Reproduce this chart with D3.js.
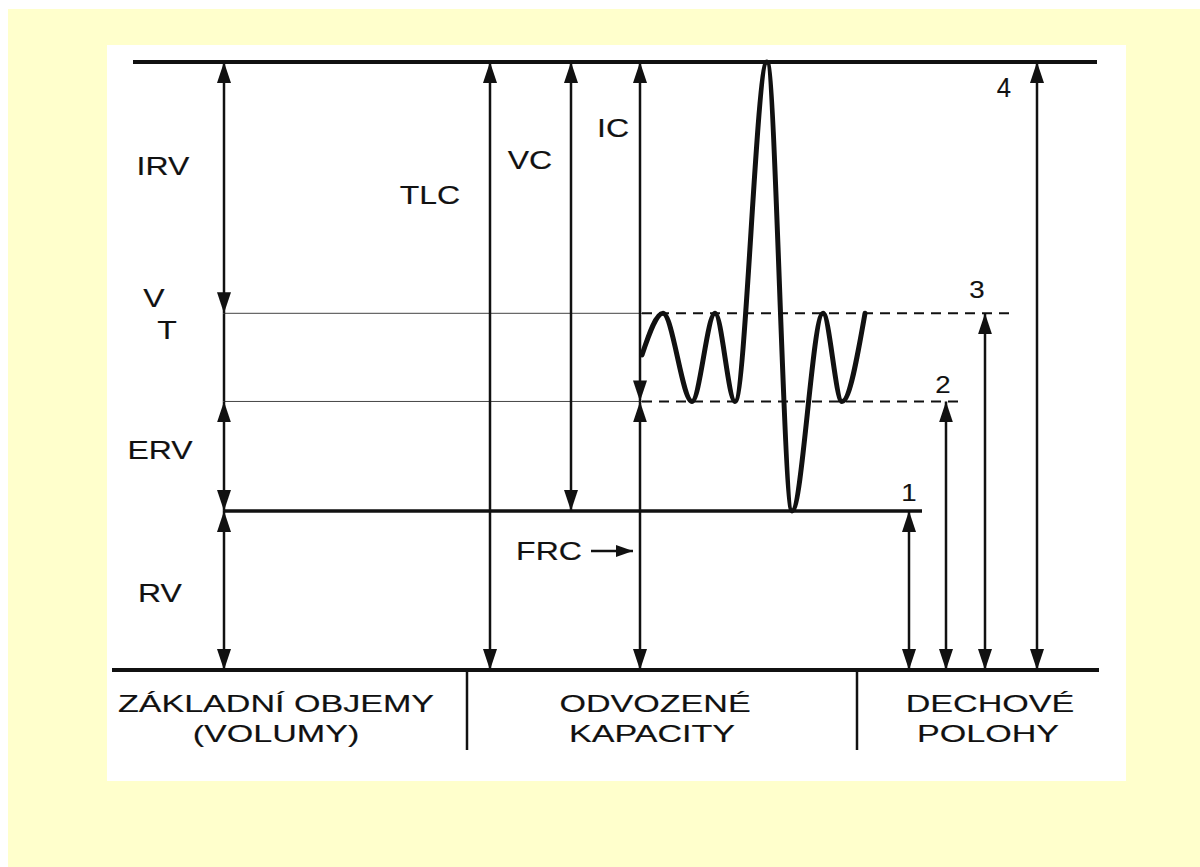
<!DOCTYPE html>
<html>
<head>
<meta charset="utf-8">
<script src="https://cdn.jsdelivr.net/npm/d3@7/dist/d3.min.js"></script>
<style>
  html, body { margin: 0; padding: 0; background: #ffffff; }
  svg { display: block; }
  text { font-family: "Liberation Sans", Arial, Helvetica, sans-serif; fill: #111; stroke: #111; stroke-width: 0.15px; }
</style>
</head>
<body>
<div id="chart"></div>
<script>
// ---------------- DATA ----------------
// Lung volume levels (litres)
const levelNames  = ["RV", "FRC", "EIL", "TLC"];      // residual, functional residual, end-inspiratory, total
const levelValues = [1.57, 2.65, 3.52, 6.0];

// Basic volumes (left column): label, from level, to level
const volumeLabels = ["IRV", "VT", "ERV", "RV"];
const volumeFrom   = ["EIL", "FRC", "RV", "ZERO"];
const volumeTo     = ["TLC", "EIL", "FRC", "RV"];

// Derived capacities: label, from level, to level
const capacityLabels = ["TLC", "VC", "IC", "FRC"];
const capacityFrom   = ["ZERO", "RV", "FRC", "ZERO"];
const capacityTo     = ["TLC", "TLC", "TLC", "FRC"];

// Breathing positions (right column)
const positionLabels = ["1", "2", "3", "4"];
const positionLevels = ["RV", "FRC", "EIL", "TLC"];

// Spirogram trace: time (s) and volume (L) at its turning points
const waveTime   = [0, 0.21, 0.50, 0.73, 0.93, 1.25, 1.50, 1.81, 2.00, 2.23];
const waveVolume = [3.11, 3.52, 2.65, 3.52, 2.65, 6.0, 1.57, 3.52, 2.65, 3.52];

// Group captions along the bottom
const groupLine1 = ["ZÁKLADNÍ OBJEMY", "ODVOZENÉ", "DECHOVÉ"];
const groupLine2 = ["(VOLUMY)", "KAPACITY", "POLOHY"];

// ---------------- LAYOUT ----------------
const W = 1200, H = 867;
const level = name => name === "ZERO" ? 0 : levelValues[levelNames.indexOf(name)];

const y = d3.scaleLinear().domain([0, 6.0]).range([670, 62]);
const xWave = d3.scaleLinear().domain([0, 2.23]).range([642, 865]);

const volumeX = 224;
const capacityX = [490, 571, 640, 640];
const positionX = [909, 946, 985, 1037];
const groupCenters1 = [276, 655, 990];
const groupCenters2 = [276, 652, 988];
const dividerX = [467, 857];

const svg = d3.select("#chart").append("svg")
  .attr("width", W).attr("height", H);

// backgrounds
svg.append("rect").attr("x", 0).attr("y", 0).attr("width", W).attr("height", H).attr("fill", "#ffffff");
svg.append("rect").attr("x", 8).attr("y", 9).attr("width", W - 8).attr("height", H - 9).attr("fill", "#FFFFCC");
svg.append("rect").attr("x", 107).attr("y", 45).attr("width", 1019).attr("height", 736).attr("fill", "#ffffff");

// markers
const defs = svg.append("defs");
defs.append("marker").attr("id", "head")
  .attr("markerUnits", "userSpaceOnUse")
  .attr("viewBox", "0 0 21 14").attr("markerWidth", 21).attr("markerHeight", 14)
  .attr("refX", 21).attr("refY", 7).attr("orient", "auto-start-reverse")
  .append("path").attr("d", "M0,0 L21,7 L0,14 Z").attr("fill", "#111");
defs.append("marker").attr("id", "headSmall")
  .attr("markerUnits", "userSpaceOnUse")
  .attr("viewBox", "0 0 17 12").attr("markerWidth", 17).attr("markerHeight", 12)
  .attr("refX", 17).attr("refY", 6).attr("orient", "auto-start-reverse")
  .append("path").attr("d", "M0,0 L17,6 L0,12 Z").attr("fill", "#111");

const ink = "#111";

// horizontal reference lines
svg.append("line").attr("x1", 133).attr("x2", 1097).attr("y1", y(level("TLC"))).attr("y2", y(level("TLC")))
  .attr("stroke", ink).attr("stroke-width", 4);
svg.append("line").attr("x1", 112).attr("x2", 1099).attr("y1", y(0)).attr("y2", y(0))
  .attr("stroke", ink).attr("stroke-width", 4);
svg.append("line").attr("x1", 224).attr("x2", 922).attr("y1", y(level("RV"))).attr("y2", y(level("RV")))
  .attr("stroke", ink).attr("stroke-width", 3.5);
// thin lines for tidal range
["EIL", "FRC"].forEach(n => {
  svg.append("line").attr("x1", 224).attr("x2", 642).attr("y1", y(level(n))).attr("y2", y(level(n)))
    .attr("stroke", "#444").attr("stroke-width", 1);
});
// dashed continuations
svg.append("line").attr("x1", 642).attr("x2", 1009).attr("y1", y(level("EIL"))).attr("y2", y(level("EIL")))
  .attr("stroke", ink).attr("stroke-width", 2).attr("stroke-dasharray", "10,7");
svg.append("line").attr("x1", 642).attr("x2", 963).attr("y1", y(level("FRC"))).attr("y2", y(level("FRC")))
  .attr("stroke", ink).attr("stroke-width", 2).attr("stroke-dasharray", "10,7");

// arrow helper
function vArrow(x, vTop, vBottom, headTop, headBottom) {
  const l = svg.append("line").attr("x1", x).attr("x2", x)
    .attr("y1", y(vTop)).attr("y2", y(vBottom))
    .attr("stroke", ink).attr("stroke-width", 2.5);
  if (headTop) l.attr("marker-start", "url(#head)");
  if (headBottom) l.attr("marker-end", "url(#head)");
}

// stretched text helper
function label(txt, cx, baseline, size, sx) {
  svg.append("g").attr("transform", `translate(${cx},${baseline})`)
    .append("text").attr("transform", `scale(${sx},1)`)
    .attr("text-anchor", "middle").attr("font-size", size).text(txt);
}

// basic volumes
volumeLabels.forEach((lab, i) => {
  const top = level(volumeTo[i]), bot = level(volumeFrom[i]);
  vArrow(volumeX, top, bot, lab !== "VT", lab !== "VT");
});
label("IRV", 163, 175, 25, 1.28);
label("V", 154, 307, 25, 1.28);
label("T", 167, 339, 25, 1.28);
label("ERV", 160, 459, 25, 1.28);
label("RV", 160, 602, 25, 1.28);

// capacities
capacityLabels.forEach((lab, i) => {
  vArrow(capacityX[i], level(capacityTo[i]), level(capacityFrom[i]), true, true);
});
label("TLC", 430, 204, 25, 1.28);
label("VC", 530, 169, 25, 1.28);
label("IC", 613, 137, 25, 1.28);
label("FRC", 549, 560, 25, 1.28);
svg.append("line").attr("x1", 591).attr("x2", 633).attr("y1", 551).attr("y2", 551)
  .attr("stroke", ink).attr("stroke-width", 2.5).attr("marker-end", "url(#headSmall)");

// breathing positions
positionLabels.forEach((lab, i) => {
  vArrow(positionX[i], level(positionLevels[i]), 0, true, true);
});
label("1", 909, 501, 23, 1.2);
label("2", 943, 393, 23, 1.2);
label("3", 977, 298, 23, 1.2);
label("4", 1004, 97, 27, 0.95);

// spirogram trace
const wave = d3.line()
  .x((d, i) => xWave(waveTime[i]))
  .y((d, i) => y(waveVolume[i]))
  .curve(d3.curveMonotoneX);
svg.append("path").datum(waveTime).attr("d", wave)
  .attr("fill", "none").attr("stroke", ink).attr("stroke-width", 5)
  .attr("stroke-linecap", "round").attr("stroke-linejoin", "round");

// group dividers
dividerX.forEach(x => {
  svg.append("line").attr("x1", x).attr("x2", x).attr("y1", y(0)).attr("y2", 750)
    .attr("stroke", ink).attr("stroke-width", 2.5);
});
groupLine1.forEach((t, i) => label(t, groupCenters1[i], 712, 24, 1.42));
groupLine2.forEach((t, i) => label(t, groupCenters2[i], 742, 24, 1.42));
</script>
</body>
</html>
